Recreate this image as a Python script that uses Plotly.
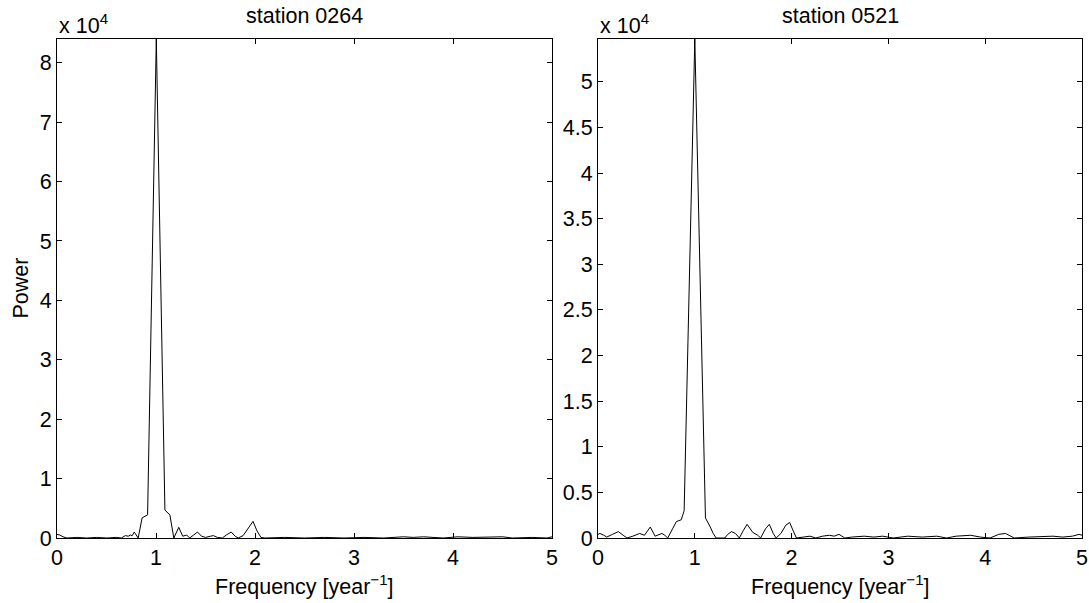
import plotly.graph_objects as go

# ---- data (power in units of 1e4) ----
freq_0264 = [0.00, 0.03, 0.06, 0.10, 0.20, 0.30, 0.40, 0.50, 0.60, 0.65, 0.69, 0.72, 0.74, 0.76,
             0.78, 0.80, 0.82, 0.86, 0.915, 1.003, 1.09, 1.14, 1.18, 1.23, 1.27, 1.31, 1.34, 1.38,
             1.42, 1.46, 1.50, 1.55, 1.58, 1.62, 1.67, 1.71, 1.76, 1.80, 1.83, 1.88, 1.93, 1.98,
             2.02, 2.06, 2.10, 2.30, 2.50, 2.70, 2.90, 3.10, 3.30, 3.50, 3.60, 3.70, 3.90, 4.05,
             4.20, 4.35, 4.50, 4.60, 4.80, 4.95, 5.00]
power_0264 = [0.06, 0.05, 0.02, 0.00, 0.01, 0.00, 0.01, 0.00, 0.01, 0.00, 0.04, 0.03, 0.05, 0.04,
              0.10, 0.05, 0.00, 0.34, 0.39, 8.40, 0.47, 0.39, 0.00, 0.18, 0.03, 0.05, 0.00, 0.05,
              0.10, 0.03, 0.01, 0.03, 0.04, 0.01, 0.00, 0.05, 0.10, 0.03, 0.00, 0.04, 0.15, 0.28,
              0.12, 0.01, 0.00, 0.01, 0.00, 0.01, 0.00, 0.01, 0.00, 0.02, 0.01, 0.02, 0.00, 0.02,
              0.01, 0.01, 0.02, 0.00, 0.01, 0.00, 0.02]

freq_0521 = [0.00, 0.02, 0.06, 0.09, 0.15, 0.21, 0.26, 0.30, 0.36, 0.43, 0.48, 0.54, 0.59, 0.63,
             0.66, 0.69, 0.72, 0.77, 0.81, 0.86, 0.89, 1.00, 1.11, 1.16, 1.19, 1.22, 1.31, 1.34,
             1.38, 1.42, 1.46, 1.50, 1.54, 1.60, 1.65, 1.68, 1.73, 1.77, 1.81, 1.84, 1.89, 1.94,
             1.98, 2.02, 2.05, 2.12, 2.19, 2.25, 2.32, 2.39, 2.44, 2.49, 2.55, 2.62, 2.75, 2.85,
             2.94, 3.05, 3.20, 3.35, 3.50, 3.60, 3.70, 3.85, 3.95, 4.05, 4.14, 4.21, 4.30, 4.45,
             4.60, 4.70, 4.80, 4.90, 4.97, 5.00]
power_0521 = [0.04, 0.05, 0.03, 0.01, 0.04, 0.07, 0.03, 0.00, 0.02, 0.05, 0.03, 0.12, 0.02, 0.04,
              0.05, 0.03, 0.00, 0.10, 0.18, 0.20, 0.30, 5.47, 0.22, 0.12, 0.05, 0.00, 0.00, 0.04,
              0.07, 0.05, 0.00, 0.08, 0.15, 0.06, 0.03, 0.00, 0.10, 0.15, 0.05, 0.00, 0.05, 0.14,
              0.17, 0.07, 0.00, 0.01, 0.02, 0.00, 0.02, 0.03, 0.02, 0.04, 0.00, 0.01, 0.02, 0.01,
              0.02, 0.00, 0.02, 0.01, 0.02, 0.00, 0.02, 0.03, 0.01, 0.00, 0.04, 0.05, 0.00, 0.01,
              0.02, 0.02, 0.01, 0.02, 0.04, 0.03]

titles = ["station 0264", "station 0521"]
x_ticks = [0, 1, 2, 3, 4, 5]
ymax = [8.4, 5.47]
ydtick = [1, 0.5]

W, H = 1089, 603
FONT = "Liberation Sans, Arial, Helvetica, sans-serif"
FS = 21.5

fig = go.Figure()
fig.add_trace(go.Scatter(x=freq_0264, y=power_0264, mode="lines",
                         line=dict(color="black", width=1), xaxis="x", yaxis="y",
                         showlegend=False, hoverinfo="skip"))
fig.add_trace(go.Scatter(x=freq_0521, y=power_0521, mode="lines",
                         line=dict(color="black", width=1), xaxis="x2", yaxis="y2",
                         showlegend=False, hoverinfo="skip"))

xd = [[57 / W, 552 / W], [598 / W, 1082 / W]]
yd = [(H - 538) / H, (H - 39) / H]

axis_common = dict(showline=True, linecolor="black", linewidth=1, mirror="ticks",
                   ticks="inside", ticklen=5, tickcolor="black", showgrid=False,
                   zeroline=False, automargin=False,
                   tickfont=dict(family=FONT, size=FS, color="black"))

fig.update_layout(
    width=W, height=H, autosize=False,
    margin=dict(l=0, r=0, t=0, b=0, pad=0),
    paper_bgcolor="white", plot_bgcolor="white",
    font=dict(family=FONT, size=FS, color="black"),
    xaxis=dict(domain=xd[0], range=[0, 5], tickvals=x_ticks, anchor="y", **axis_common),
    yaxis=dict(domain=yd, range=[0, ymax[0]], dtick=ydtick[0], tick0=0, anchor="x", **axis_common),
    xaxis2=dict(domain=xd[1], range=[0, 5], tickvals=x_ticks, anchor="y2", **axis_common),
    yaxis2=dict(domain=yd, range=[0, ymax[1]], dtick=ydtick[1], tick0=0, anchor="x2", **axis_common),
)

ann = []
for i in range(2):
    cx = (xd[i][0] + xd[i][1]) / 2
    ann.append(dict(text=titles[i], x=cx, y=(H - 16) / H, xref="paper", yref="paper",
                    xanchor="center", yanchor="middle", showarrow=False,
                    font=dict(family=FONT, size=FS, color="black")))
    ann.append(dict(text="x 10<sup>4</sup>", x=xd[i][0], y=(H - 24) / H, xref="paper", yref="paper",
                    xanchor="left", yanchor="middle", showarrow=False,
                    font=dict(family=FONT, size=FS, color="black")))
    ann.append(dict(text="Frequency [year<sup>\u22121</sup>]", x=cx, y=(H - 585) / H,
                    xref="paper", yref="paper", xanchor="center", yanchor="middle",
                    showarrow=False, font=dict(family=FONT, size=FS, color="black")))
ann.append(dict(text="Power", x=20 / W, y=(yd[0] + yd[1]) / 2, xref="paper", yref="paper",
                xanchor="center", yanchor="middle", textangle=-90, showarrow=False,
                font=dict(family=FONT, size=FS, color="black")))
fig.update_layout(annotations=ann)

fig.write_html("out.html", config={"responsive": False},
               post_script="document.body.style.margin='0';document.body.style.overflow='hidden';")
